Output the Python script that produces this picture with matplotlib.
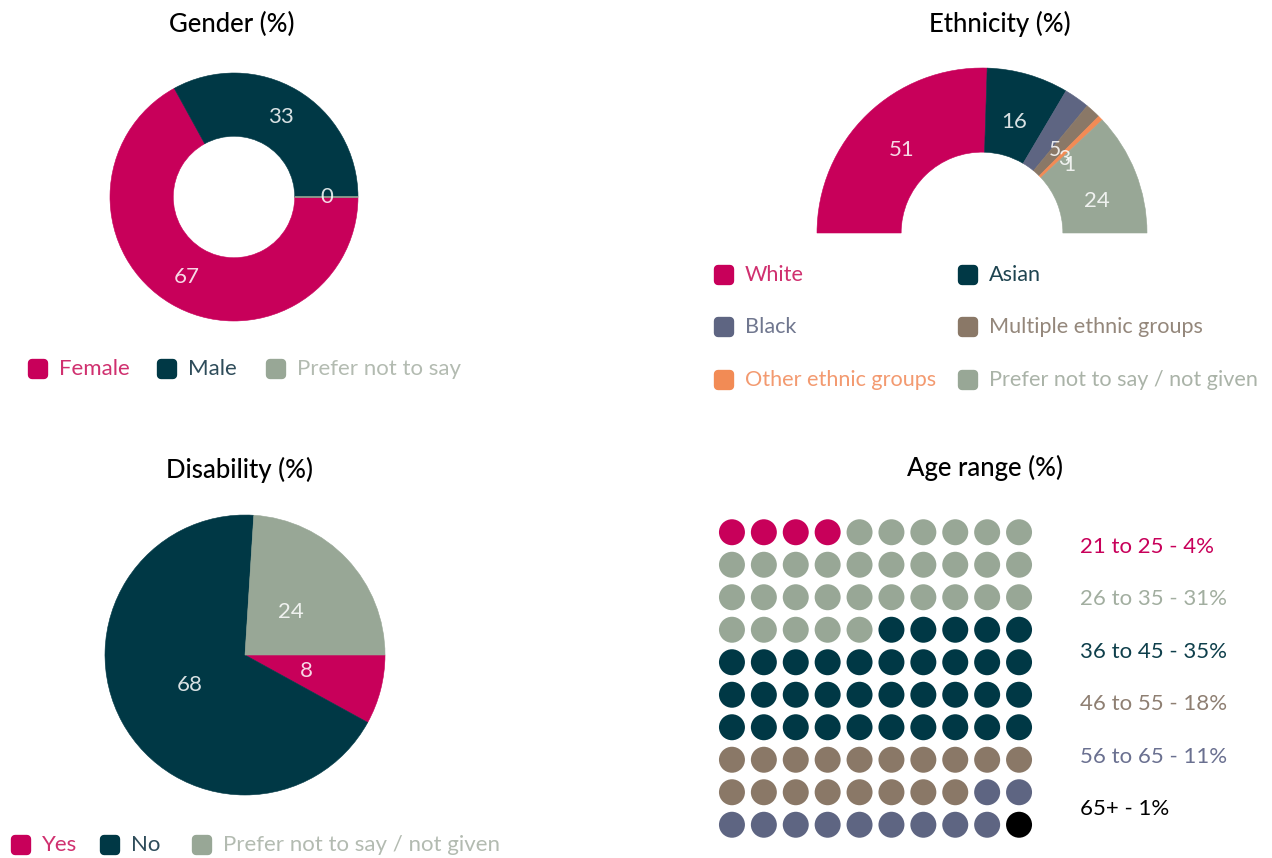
import numpy as np
import matplotlib.pyplot as plt
from matplotlib.markers import MarkerStyle

"""
Survey demographics: gender, ethnicity, disability and age range
"""

W, H = 1272, 858

# Palette
PINK = '#C8005A'
DARK = '#003845'
GREY = '#98A796'
SLATE = '#5E6582'
BROWN = '#8A7867'
ORANGE = '#F28B55'
BLACK = '#000000'

# Data
gender_labels = ['Female', 'Male', 'Prefer not to say']
gender_values = [67, 33, 0]
gender_colors = [PINK, DARK, GREY]
gender_text_colors = ['#D0306F', '#2E4C5A', '#B3BBB1']

ethnicity_labels = ['White', 'Asian', 'Black', 'Multiple ethnic groups',
                    'Other ethnic groups', 'Prefer not to say / not given']
ethnicity_values = [51, 16, 5, 3, 1, 24]
ethnicity_colors = [PINK, DARK, SLATE, BROWN, ORANGE, GREY]
ethnicity_text_colors = ['#D0306F', '#1E4450', '#70778F', '#94877B', '#F39A70', '#AAB3A8']

disability_labels = ['Yes', 'No', 'Prefer not to say / not given']
disability_values = [8, 68, 24]
disability_colors = [PINK, DARK, GREY]
disability_text_colors = ['#D0306F', '#2E4C5A', '#B3BBB1']

age_labels = ['21 to 25', '26 to 35', '36 to 45', '46 to 55', '56 to 65', '65+']
age_values = [4, 31, 35, 18, 11, 1]
age_colors = [PINK, GREY, DARK, BROWN, SLATE, BLACK]
age_text_colors = [PINK, '#A2AEA0', '#0E3F4B', '#8E7F72', '#6A7090', BLACK]

plt.rcParams['font.family'] = ['Lato', 'DejaVu Sans']


def box_axes(fig, cx, cy, r):
    """Square axes centred on pixel (cx, cy) with half-size r, limits -1..1."""
    ax = fig.add_axes([(cx - r) / W, 1 - (cy + r) / H, 2 * r / W, 2 * r / H])
    return ax


def finish_pie(ax, wedges, values, colors):
    for w, v, c in zip(wedges, values, colors):
        w.set_edgecolor(c)
        w.set_linewidth(1.2 if v == 0 else 0.4)
    ax.set_xlim(-1, 1)
    ax.set_ylim(-1, 1)
    ax.axis('off')


label_style = dict(color='white', alpha=0.85, fontsize=16, ha='center', va='center')

fig = plt.figure(figsize=(W / 100, H / 100), dpi=100)

# Gender donut
ax = box_axes(fig, 234, 197, 124)
wedges, _ = ax.pie(gender_values, colors=gender_colors, startangle=0, counterclock=False,
                   radius=1, labels=[str(v) for v in gender_values], labeldistance=0.75,
                   textprops=label_style, wedgeprops=dict(width=0.51))
finish_pie(ax, wedges, gender_values, gender_colors)

# Ethnicity half donut (bottom half hidden)
ax = box_axes(fig, 982, 233, 165)
wedges, texts = ax.pie(ethnicity_values + [sum(ethnicity_values)],
                       colors=ethnicity_colors + ['none'], startangle=180, counterclock=False,
                       labels=[str(v) for v in ethnicity_values] + [''], labeldistance=0.7,
                       textprops=label_style, wedgeprops=dict(width=0.51))
finish_pie(ax, wedges[:-1], ethnicity_values, ethnicity_colors)
wedges[-1].set_visible(False)
# labels of the thin slices sit a little clockwise of their slice centre, as in the source
for w, t in zip(wedges[2:6], texts[2:6]):
    mid = np.deg2rad((w.theta1 + w.theta2) / 2 - 6)
    r = 0.72 if t.get_text() == '24' else 0.67
    t.set_position((r * np.cos(mid), r * np.sin(mid)))
    if t.get_text() != '24':
        t.set_fontsize(15)

# Disability pie
ax = box_axes(fig, 245, 655, 140)
wedges, _ = ax.pie(disability_values, colors=disability_colors, startangle=0,
                   counterclock=False, labels=[str(v) for v in disability_values],
                   labeldistance=0.45, textprops=label_style)
finish_pie(ax, wedges, disability_values, disability_colors)

# Age range waffle (10 x 10)
ax = fig.add_axes([716 / W, 1 - 841 / H, 319 / W, 325 / H])
dot_colors = [c for v, c in zip(age_values, age_colors) for _ in range(v)]
cols = [i % 10 for i in range(len(dot_colors))]
rows = [i // 10 for i in range(len(dot_colors))]
ax.scatter(cols, rows, s=350, c=dot_colors, linewidths=0)
ax.set_xlim(-0.5, 9.5)
ax.set_ylim(9.5, -0.5)
ax.axis('off')

# Overlay in pixel coordinates for titles and legends
ov = fig.add_axes([0, 0, 1, 1])
ov.set_xlim(0, W)
ov.set_ylim(H, 0)
ov.axis('off')

title_style = dict(fontsize=18.5, fontweight='medium', color='black', ha='center', va='center')
ov.text(232, 24, 'Gender (%)', **title_style)
ov.text(1000, 24, 'Ethnicity (%)', **title_style)
ov.text(240, 470, 'Disability (%)', **title_style)
ov.text(985, 468, 'Age range (%)', **title_style)

rounded = MarkerStyle('s', joinstyle='round')


def legend_item(x, y, label, color, text_color, size=16):
    ov.plot([x], [y], marker=rounded, ms=9, mew=6, mfc=color, mec=color, ls='none')
    ov.text(x + 21, y, label, color=text_color, fontsize=size, ha='left', va='center')


for x, lab, c, tc in zip([38, 167, 276], gender_labels, gender_colors, gender_text_colors):
    legend_item(x, 369, lab, c, tc)

eth_pos = [(724, 275), (968, 275), (724, 327), (968, 327), (724, 380), (968, 380)]
for (x, y), lab, c, tc in zip(eth_pos, ethnicity_labels, ethnicity_colors, ethnicity_text_colors):
    legend_item(x, y, lab, c, tc, size=15.6)

for x, lab, c, tc in zip([21, 110, 202], disability_labels, disability_colors,
                         disability_text_colors):
    legend_item(x, 845, lab, c, tc)

for i, (lab, v, tc) in enumerate(zip(age_labels, age_values, age_text_colors)):
    ov.text(1080, 547 + i * 52.4, f'{lab} - {v}%', color=tc, fontsize=16,
            ha='left', va='center')

fig.savefig('out.png', dpi=100)
